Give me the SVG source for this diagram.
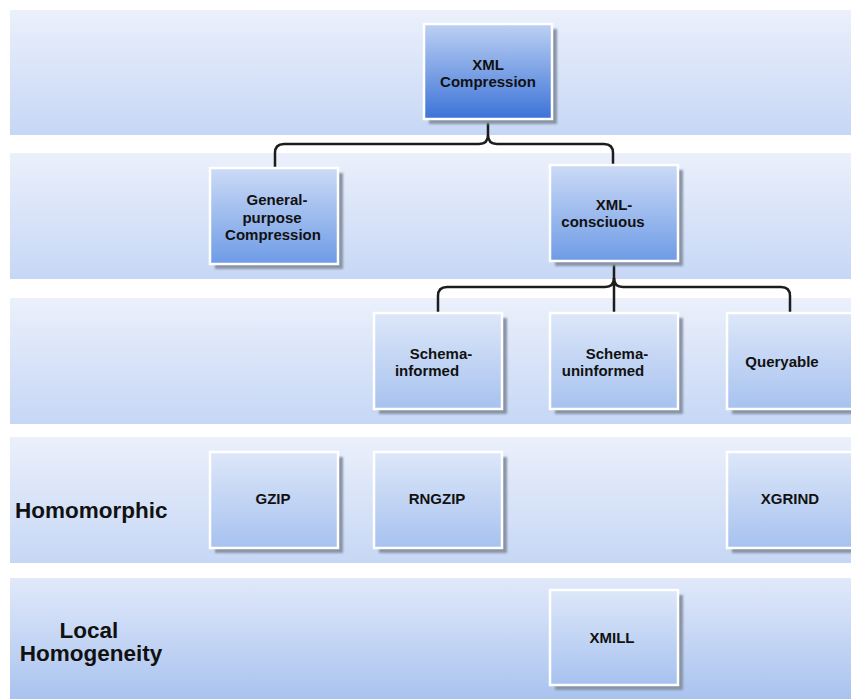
<svg xmlns="http://www.w3.org/2000/svg" width="851" height="699" viewBox="0 0 851 699">
<defs>
<linearGradient id="band" x1="0" y1="0" x2="0" y2="1"><stop offset="0" stop-color="#ebf0fb"/><stop offset="1" stop-color="#c6d7f5"/></linearGradient>
<linearGradient id="band5" x1="0" y1="0" x2="0" y2="1"><stop offset="0" stop-color="#e1e9fa"/><stop offset="1" stop-color="#a9c3ef"/></linearGradient>
<linearGradient id="g1" x1="0" y1="0" x2="0" y2="1"><stop offset="0" stop-color="#bdd1f3"/><stop offset="1" stop-color="#3c73d8"/></linearGradient>
<linearGradient id="g2" x1="0" y1="0" x2="0" y2="1"><stop offset="0" stop-color="#ccdbf6"/><stop offset="1" stop-color="#6e9be6"/></linearGradient>
<linearGradient id="g3" x1="0" y1="0" x2="0" y2="1"><stop offset="0" stop-color="#dde7f9"/><stop offset="1" stop-color="#a7c2ef"/></linearGradient>
<filter id="blur" x="-10%" y="-10%" width="120%" height="120%"><feGaussianBlur stdDeviation="1"/></filter>
</defs>
<style>
.shadow{fill:#8893a6;filter:url(#blur)}
.box{stroke:#ffffff;stroke-width:2.5}
.t{font-family:"Liberation Sans",Arial,sans-serif;font-weight:bold;font-size:15px;fill:#111;text-anchor:middle}
.lab{font-family:"Liberation Sans",Arial,sans-serif;font-weight:bold;font-size:22.5px;fill:#111}
.conn{fill:none;stroke:#1c1c1c;stroke-width:2.5}
</style>
<rect width="851" height="699" fill="#ffffff"/>
<g id="bands">
<rect x="10" y="10" width="841" height="125" fill="url(#band)"/>
<rect x="10" y="153" width="841" height="126" fill="url(#band)"/>
<rect x="10" y="298" width="841" height="126" fill="url(#band)"/>
<rect x="10" y="437" width="841" height="126" fill="url(#band)"/>
<rect x="10" y="578" width="841" height="121" fill="url(#band5)"/>
</g>
<g id="row-labels">
<text class="lab" x="15" y="518">Homomorphic</text>
<text class="lab" x="89" y="638" text-anchor="middle">Local</text>
<text class="lab" x="91" y="661" text-anchor="middle">Homogeneity</text>
</g>
<g id="connectors">
<path class="conn" d="M488,119 V135 Q488,144 479,144 H284 Q275,144 275,153 V168"/>
<path class="conn" d="M488,135 Q488,144 497,144 H604 Q613,144 613,153 V165"/>
<path class="conn" d="M614,261 V278 Q614,287 605,287 H447 Q438,287 438,296 V313"/>
<path class="conn" d="M614,278 Q614,287 623,287 H781 Q790,287 790,296 V313"/>
<path class="conn" d="M614,278 V313"/>
</g>
<g id="n-xml-compression">
<rect class="shadow" x="429" y="29" width="128" height="95"/>
<rect class="box" x="424" y="24" width="128" height="95" fill="url(#g1)"/>
<text class="t" x="488" y="70">XML</text>
<text class="t" x="488" y="87">Compression</text>
</g>
<g id="n-general-purpose">
<rect class="shadow" x="215" y="173" width="128" height="96"/>
<rect class="box" x="210" y="168" width="128" height="96" fill="url(#g2)"/>
<text class="t" x="277" y="205">General-</text>
<text class="t" x="272" y="223">purpose</text>
<text class="t" x="273" y="240">Compression</text>
</g>
<g id="n-xml-conscious">
<rect class="shadow" x="555" y="170" width="128" height="96"/>
<rect class="box" x="550" y="165" width="128" height="96" fill="url(#g2)"/>
<text class="t" x="614" y="210">XML-</text>
<text class="t" x="603" y="227">consciuous</text>
</g>
<g id="n-schema-informed">
<rect class="shadow" x="379" y="318" width="128" height="96"/>
<rect class="box" x="374" y="313" width="128" height="96" fill="url(#g3)"/>
<text class="t" x="441" y="359">Schema-</text>
<text class="t" x="427" y="376">informed</text>
</g>
<g id="n-schema-uninformed">
<rect class="shadow" x="555" y="318" width="128" height="96"/>
<rect class="box" x="550" y="313" width="128" height="96" fill="url(#g3)"/>
<text class="t" x="617" y="359">Schema-</text>
<text class="t" x="603" y="376">uninformed</text>
</g>
<g id="n-queryable">
<rect class="shadow" x="732" y="318" width="128" height="96"/>
<rect class="box" x="727" y="313" width="128" height="96" fill="url(#g3)"/>
<text class="t" x="782" y="367">Queryable</text>
</g>
<g id="n-gzip">
<rect class="shadow" x="215" y="457" width="128" height="96"/>
<rect class="box" x="210" y="452" width="128" height="96" fill="url(#g3)"/>
<text class="t" x="273" y="504">GZIP</text>
</g>
<g id="n-rngzip">
<rect class="shadow" x="379" y="457" width="128" height="96"/>
<rect class="box" x="374" y="452" width="128" height="96" fill="url(#g3)"/>
<text class="t" x="437" y="504">RNGZIP</text>
</g>
<g id="n-xgrind">
<rect class="shadow" x="732" y="457" width="128" height="96"/>
<rect class="box" x="727" y="452" width="128" height="96" fill="url(#g3)"/>
<text class="t" x="790" y="504">XGRIND</text>
</g>
<g id="n-xmill">
<rect class="shadow" x="555" y="595" width="128" height="95"/>
<rect class="box" x="550" y="590" width="128" height="95" fill="url(#g3)"/>
<text class="t" x="612" y="643">XMILL</text>
</g>
</svg>
